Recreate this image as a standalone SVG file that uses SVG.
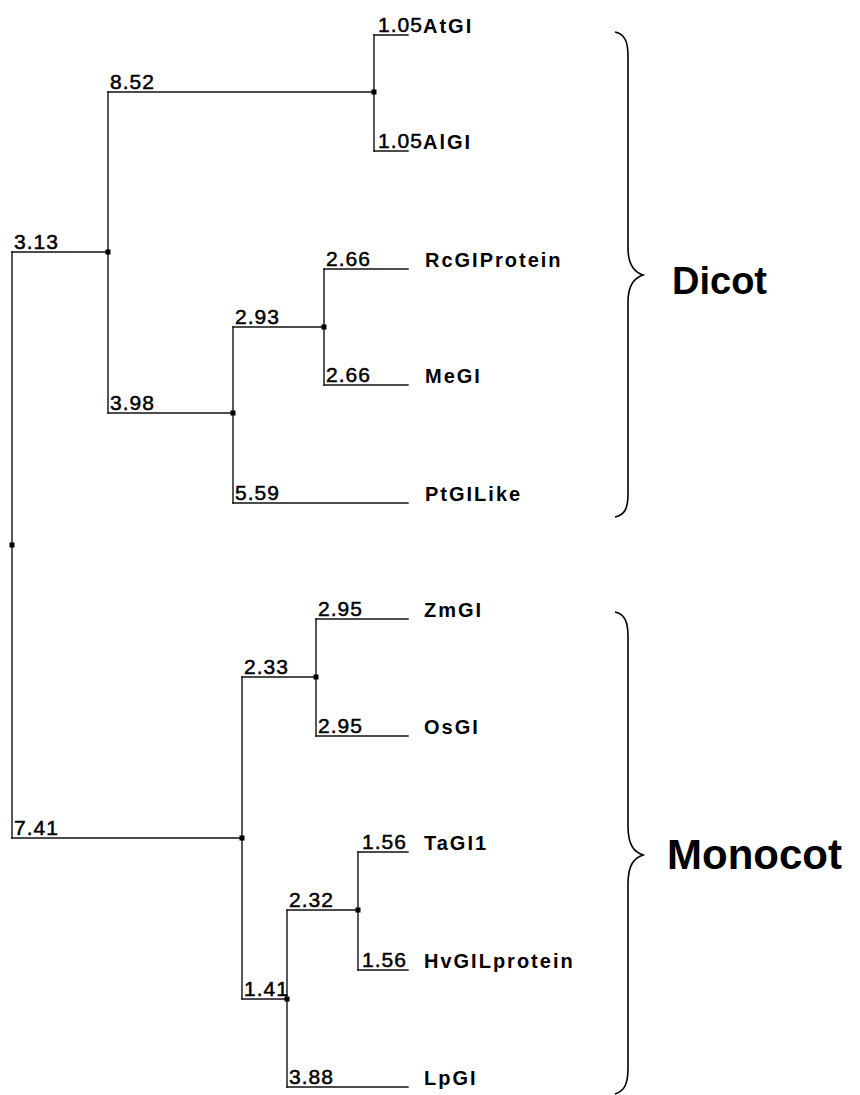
<svg xmlns="http://www.w3.org/2000/svg" width="860" height="1095" viewBox="0 0 860 1095">
<style>
.br{stroke:#111;stroke-width:1.4;fill:none;stroke-linecap:square}
.num{font-family:"Liberation Sans",Arial,sans-serif;font-size:21px;letter-spacing:1px;fill:#000;stroke:#000;stroke-width:0.5px}
.nm{font-family:"Liberation Sans",Arial,sans-serif;font-size:20px;font-weight:bold;letter-spacing:2px;fill:#000}
.dot{fill:#000}
.brace{stroke:#000;stroke-width:1.6;fill:none}
.grp{font-family:"Liberation Sans",Arial,sans-serif;font-weight:bold;fill:#000}
</style>
<rect width="860" height="1095" fill="#fff"/>
<g id="connectors">
<path class="br" d="M12,252 V838"/>
<path class="br" d="M12,252 H108"/>
<path class="br" d="M108,92 V413"/>
<path class="br" d="M108,92 H374"/>
<path class="br" d="M374,35 V151"/>
<path class="br" d="M374,35 H408"/>
<path class="br" d="M374,151 H408"/>
<path class="br" d="M108,413 H233"/>
<path class="br" d="M233,327 V503"/>
<path class="br" d="M233,327 H324"/>
<path class="br" d="M324,269 V385"/>
<path class="br" d="M324,269 H408"/>
<path class="br" d="M324,385 H408"/>
<path class="br" d="M233,503 H408"/>
<path class="br" d="M12,838 H242"/>
<path class="br" d="M242,677 V999"/>
<path class="br" d="M242,677 H316"/>
<path class="br" d="M316,619 V736"/>
<path class="br" d="M316,619 H408"/>
<path class="br" d="M316,736 H408"/>
<path class="br" d="M242,999 H287"/>
<path class="br" d="M287,910 V1087"/>
<path class="br" d="M287,910 H358"/>
<path class="br" d="M358,852 V970"/>
<path class="br" d="M358,852 H408"/>
<path class="br" d="M358,970 H408"/>
<path class="br" d="M287,1087 H408"/>
</g>
<g id="root"><rect class="dot" x="9.5" y="542.5" width="5" height="5"/></g>
<g id="n_dicot"><rect class="dot" x="105.5" y="249.5" width="5" height="5"/><text class="num" x="14" y="249">3.13</text></g>
<g id="n_at_al"><rect class="dot" x="371.5" y="89.5" width="5" height="5"/><text class="num" x="110" y="89">8.52</text></g>
<g id="AtGI"><text class="num" x="378" y="32">1.05</text><text class="nm" x="423" y="33">AtGI</text></g>
<g id="AlGI"><text class="num" x="378" y="148">1.05</text><text class="nm" x="423" y="149">AlGI</text></g>
<g id="n_rc_me_pt"><rect class="dot" x="230.5" y="410.5" width="5" height="5"/><text class="num" x="110" y="410">3.98</text></g>
<g id="n_rc_me"><rect class="dot" x="321.5" y="324.5" width="5" height="5"/><text class="num" x="235" y="324">2.93</text></g>
<g id="RcGIProtein"><text class="num" x="326" y="266">2.66</text><text class="nm" x="425" y="267">RcGIProtein</text></g>
<g id="MeGI"><text class="num" x="326" y="382">2.66</text><text class="nm" x="425" y="383">MeGI</text></g>
<g id="PtGILike"><text class="num" x="235" y="500">5.59</text><text class="nm" x="425" y="501">PtGILike</text></g>
<g id="n_monocot"><rect class="dot" x="239.5" y="835.5" width="5" height="5"/><text class="num" x="14" y="835">7.41</text></g>
<g id="n_zm_os"><rect class="dot" x="313.5" y="674.5" width="5" height="5"/><text class="num" x="244" y="674">2.33</text></g>
<g id="ZmGI"><text class="num" x="318" y="616">2.95</text><text class="nm" x="424" y="617">ZmGI</text></g>
<g id="OsGI"><text class="num" x="318" y="733">2.95</text><text class="nm" x="424" y="734">OsGI</text></g>
<g id="n_ta_hv_lp"><rect class="dot" x="284.5" y="996.5" width="5" height="5"/><text class="num" x="244" y="996">1.41</text></g>
<g id="n_ta_hv"><rect class="dot" x="355.5" y="907.5" width="5" height="5"/><text class="num" x="289" y="907">2.32</text></g>
<g id="TaGI1"><text class="num" x="362" y="849">1.56</text><text class="nm" x="424" y="850">TaGI1</text></g>
<g id="HvGILprotein"><text class="num" x="362" y="967">1.56</text><text class="nm" x="424" y="968">HvGILprotein</text></g>
<g id="LpGI"><text class="num" x="289" y="1084">3.88</text><text class="nm" x="424" y="1085">LpGI</text></g>
<g id="Dicot">
<path class="brace" d="M615,32 C625,34 628,42 628,56 L628,248 C628,265 634,272 643,275 C634,278 628,285 628,302 L628,494 C628,508 625,515 615,517"/>
<text class="grp" x="672" y="294" font-size="38">Dicot</text>
</g>
<g id="Monocot">
<path class="brace" d="M615,612 C625,614 628,622 628,637 L628,826 C628,845 634,852 643,855 C634,858 628,865 628,884 L628,1068 C628,1083 625,1091 615,1094"/>
<text class="grp" x="667" y="869" font-size="42">Monocot</text>
</g>
</svg>
